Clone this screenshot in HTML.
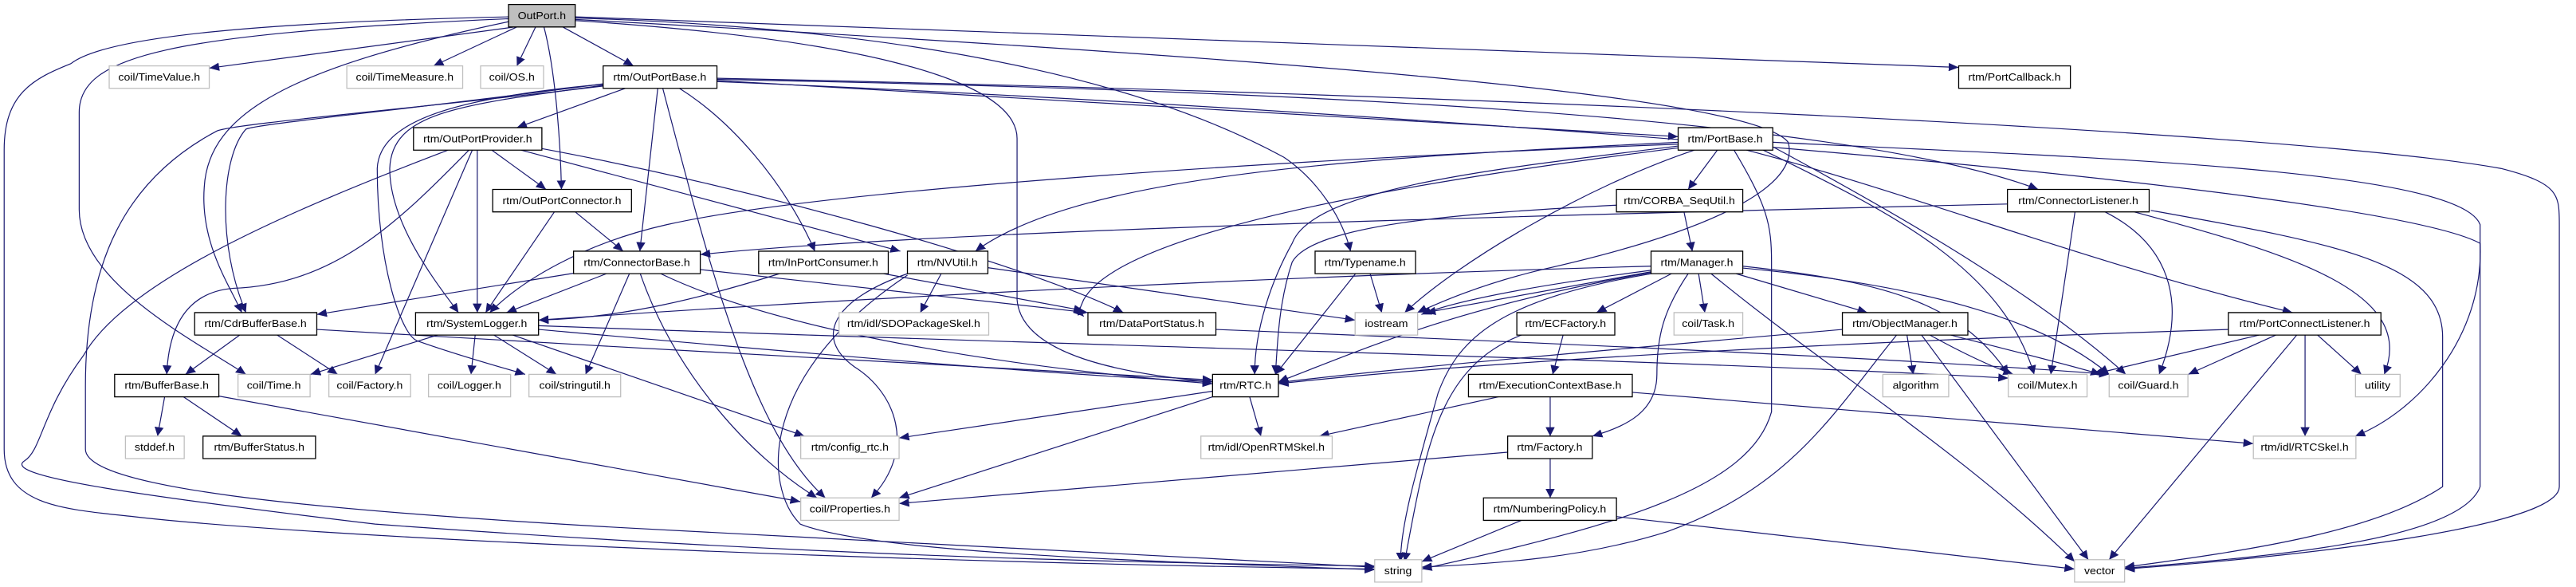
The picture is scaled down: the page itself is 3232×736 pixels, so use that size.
<!DOCTYPE html>
<html><head><meta charset="utf-8"><style>
html,body{margin:0;padding:0;background:#fff;}
svg{display:block;}
.e{fill:none;stroke:#191970;stroke-width:1.2;vector-effect:non-scaling-stroke;marker-end:url(#a);}
.b{fill:#fff;stroke:#000;stroke-width:1.3;vector-effect:non-scaling-stroke;}
.g{fill:#fff;stroke:#bfbfbf;stroke-width:1.3;vector-effect:non-scaling-stroke;}
text{font-family:"Liberation Sans",sans-serif;font-size:27px;text-anchor:middle;fill:#000;}
</style></head><body>
<svg width="3232" height="736" viewBox="0 0 6180 1568" preserveAspectRatio="none" xmlns="http://www.w3.org/2000/svg">
<defs><marker id="a" markerUnits="userSpaceOnUse" markerWidth="26" markerHeight="22" refX="24" refY="11" orient="auto"><path d="M0,0 L24,11 L0,22 z" fill="#191970"/></marker></defs>
<g>
<path class="e" d="M1235,72 L502,182"/>
<path class="e" d="M1240,72 L1040,176"/>
<path class="e" d="M1285,72 L1240,176"/>
<path class="e" d="M1350,72 L1520,176"/>
<path class="e" d="M1305,72 C1335,200 1345,400 1347,506"/>
<path class="e" d="M1220,58 C700,180 500,300 490,500 C480,650 550,760 580,835"/>
<path class="e" d="M1220,50 C400,90 190,150 190,300 L190,560 C190,750 450,900 590,1000"/>
<path class="e" d="M1220,45 C600,60 250,100 170,170 C80,210 10,250 10,400 L10,1200 C10,1350 150,1360 320,1380 C700,1430 2000,1500 3298,1520"/>
<path class="e" d="M1380,45 L4699,180"/>
<path class="e" d="M1380,48 C2300,80 2800,250 3080,420 C3160,480 3220,580 3240,671"/>
<path class="e" d="M1380,52 C3000,150 4200,250 4290,380 C4320,500 4100,620 3700,720 C3550,760 3450,810 3400,835"/>
<path class="e" d="M1380,55 C2000,100 2440,200 2440,370 L2440,800 C2450,950 2700,1000 2909,1020"/>
<path class="e" d="M1500,236 L1240,341"/>
<path class="e" d="M1578,236 L1535,671"/>
<path class="e" d="M1590,236 C1700,700 1800,1150 1980,1330"/>
<path class="e" d="M1630,236 C1750,320 1880,480 1955,671"/>
<path class="e" d="M1720,215 L4026,365"/>
<path class="e" d="M1720,212 C3000,240 4400,300 4890,506"/>
<path class="e" d="M1720,209 C3500,250 5500,350 6000,450 C6140,490 6140,520 6140,600 L6140,1300 C6140,1400 5600,1480 5097,1520"/>
<path class="e" d="M1720,218 C3500,300 5700,500 5950,650 C5960,900 5800,1100 5650,1165"/>
<path class="e" d="M1447,228 C1100,280 940,300 935,450 C935,600 1050,760 1100,835"/>
<path class="e" d="M1447,225 C1100,260 910,320 905,450 C905,700 960,890 1000,910 C1100,950 1200,980 1260,1000"/>
<path class="e" d="M1447,224 C1000,290 620,330 590,345 C530,420 520,650 590,835"/>
<path class="e" d="M1447,230 C1000,290 560,330 520,350 C300,480 205,700 205,1030 L205,1200 C205,1300 700,1360 1500,1410 C2500,1470 3000,1500 3298,1515"/>
<path class="e" d="M1180,401 L1310,506"/>
<path class="e" d="M1145,401 L1145,835"/>
<path class="e" d="M1133,401 L900,1000"/>
<path class="e" d="M1125,401 C950,600 800,760 560,770 C450,780 405,870 400,1000"/>
<path class="e" d="M1075,401 C700,560 300,750 200,950 C100,1100 100,1200 60,1230 C0,1270 300,1320 900,1400 C2000,1490 2800,1505 3298,1512"/>
<path class="e" d="M1250,401 L2160,671"/>
<path class="e" d="M1300,397 C1800,500 2450,700 2695,835"/>
<path class="e" d="M1380,566 L1495,671"/>
<path class="e" d="M1330,566 L1165,835"/>
<path class="e" d="M1376,730 L760,840"/>
<path class="e" d="M1455,731 L1215,835"/>
<path class="e" d="M1510,731 L1405,1000"/>
<path class="e" d="M1536,731 C1620,1000 1800,1220 1960,1330"/>
<path class="e" d="M1585,731 C1900,900 2500,990 2909,1025"/>
<path class="e" d="M1680,720 L2610,835"/>
<path class="e" d="M1870,731 C1700,790 1500,850 1292,855"/>
<path class="e" d="M2120,731 L2600,830"/>
<path class="e" d="M2258,731 L2208,835"/>
<path class="e" d="M2177,731 C2000,800 1950,900 2050,980 C2150,1050 2200,1200 2090,1330"/>
<path class="e" d="M2177,735 C1820,1000 1830,1300 1920,1400 C2100,1480 2800,1500 3298,1522"/>
<path class="e" d="M2370,715 L3251,855"/>
<path class="e" d="M1050,895 L745,1000"/>
<path class="e" d="M1140,895 L1130,1000"/>
<path class="e" d="M1185,895 L1335,1000"/>
<path class="e" d="M1230,895 L1930,1165"/>
<path class="e" d="M1292,880 C1900,940 2500,1000 2909,1020"/>
<path class="e" d="M1292,870 C2500,920 4000,960 4818,1010"/>
<path class="e" d="M575,895 L445,1000"/>
<path class="e" d="M665,895 L810,1000"/>
<path class="e" d="M760,880 C1500,930 2400,980 2909,1015"/>
<path class="e" d="M395,1060 L378,1165"/>
<path class="e" d="M440,1060 L580,1165"/>
<path class="e" d="M525,1058 L1920,1340"/>
<path class="e" d="M2909,1045 L2157,1170"/>
<path class="e" d="M2909,1060 L2157,1330"/>
<path class="e" d="M2998,1060 L3025,1165"/>
<path class="e" d="M2917,880 C3800,920 4600,960 5060,1000"/>
<path class="e" d="M4120,401 L4050,506"/>
<path class="e" d="M4065,401 C3800,500 3500,700 3370,835"/>
<path class="e" d="M4160,401 C4240,550 4250,600 4250,700 L4250,1100 C4200,1300 3900,1400 3411,1520"/>
<path class="e" d="M4026,380 C3300,420 2600,460 2340,671"/>
<path class="e" d="M4026,385 C3200,420 2000,500 1600,600 C1400,650 1250,750 1175,835"/>
<path class="e" d="M4026,390 C3600,450 3150,500 3100,650 C3050,750 3010,880 3010,1000"/>
<path class="e" d="M4026,395 C3500,470 2700,600 2600,800 C2580,850 2590,835 2600,845"/>
<path class="e" d="M4190,401 C4600,520 5000,700 5500,835"/>
<path class="e" d="M4230,401 C4500,550 4800,700 4880,1000"/>
<path class="e" d="M4253,392 C4600,600 4900,800 5100,1000"/>
<path class="e" d="M4253,380 C5000,420 5900,450 5950,600 L5950,1300 C5900,1450 5400,1490 5097,1518"/>
<path class="e" d="M4040,566 L4060,671"/>
<path class="e" d="M3878,548 C3500,570 3150,600 3100,700 C3070,800 3065,900 3060,1000"/>
<path class="e" d="M3287,731 L3315,835"/>
<path class="e" d="M3252,731 L3060,1000"/>
<path class="e" d="M3961,722 C3700,760 3500,800 3410,840"/>
<path class="e" d="M3961,726 C3700,780 3500,820 3420,835"/>
<path class="e" d="M3961,711 C3000,740 2000,800 1292,855"/>
<path class="e" d="M3961,728 C3500,820 3300,920 3067,1020"/>
<path class="e" d="M3961,731 C3600,800 3500,900 3450,1050 C3400,1250 3360,1400 3360,1500"/>
<path class="e" d="M4010,731 L3830,835"/>
<path class="e" d="M4075,731 L4090,835"/>
<path class="e" d="M4050,731 C3990,830 3975,900 3975,1000 C3975,1100 3900,1140 3820,1165"/>
<path class="e" d="M4165,731 L4480,835"/>
<path class="e" d="M4105,731 C4400,1000 4700,1200 4977,1500"/>
<path class="e" d="M4181,711 C4500,750 4700,800 4818,1000"/>
<path class="e" d="M4181,716 C4600,760 4900,850 5060,1000"/>
<path class="e" d="M3750,895 L3725,1000"/>
<path class="e" d="M3650,895 C3450,980 3420,1200 3370,1500"/>
<path class="e" d="M4420,880 C3700,950 3300,990 3067,1022"/>
<path class="e" d="M4575,895 L4590,1000"/>
<path class="e" d="M4630,895 C4720,950 4780,980 4830,1000"/>
<path class="e" d="M4680,895 C4800,930 4950,970 5040,1000"/>
<path class="e" d="M4610,895 L5010,1495"/>
<path class="e" d="M4550,895 C4400,1100 4300,1300 4000,1420 C3800,1490 3600,1505 3411,1515"/>
<path class="e" d="M3595,1060 L3165,1165"/>
<path class="e" d="M3719,1060 L3719,1165"/>
<path class="e" d="M3916,1048 L5406,1185"/>
<path class="e" d="M3719,1225 L3719,1330"/>
<path class="e" d="M3617,1208 L2157,1345"/>
<path class="e" d="M3650,1390 L3411,1500"/>
<path class="e" d="M3878,1380 L4977,1520"/>
<path class="e" d="M4816,545 C3500,580 2200,620 1680,680"/>
<path class="e" d="M4978,566 L4920,1000"/>
<path class="e" d="M5050,566 C5200,650 5250,800 5180,1000"/>
<path class="e" d="M5120,566 C5500,680 5800,780 5720,1000"/>
<path class="e" d="M5160,562 C5600,650 5860,700 5860,900 L5860,1300 C5700,1420 5400,1470 5097,1515"/>
<path class="e" d="M5346,880 C4500,910 3600,960 3067,1025"/>
<path class="e" d="M5420,895 L5020,1000"/>
<path class="e" d="M5460,895 L5250,1000"/>
<path class="e" d="M5560,895 L5665,1000"/>
<path class="e" d="M5530,895 L5530,1165"/>
<path class="e" d="M5510,895 L5060,1495"/>
</g>
<g>
<rect x="1220" y="12" width="160" height="60" fill="#bfbfbf" stroke="#000" stroke-width="1.3" vector-effect="non-scaling-stroke"/><text x="1300" y="51">OutPort.h</text>
<rect class="g" x="262" y="176" width="240" height="60"/><text x="382" y="215">coil/TimeValue.h</text>
<rect class="g" x="832" y="176" width="278" height="60"/><text x="971" y="215">coil/TimeMeasure.h</text>
<rect class="g" x="1153" y="176" width="151" height="60"/><text x="1228" y="215">coil/OS.h</text>
<rect class="b" x="1447" y="176" width="273" height="60"/><text x="1583" y="215">rtm/OutPortBase.h</text>
<rect class="b" x="4699" y="176" width="268" height="60"/><text x="4833" y="215">rtm/PortCallback.h</text>
<rect class="b" x="992" y="341" width="308" height="60"/><text x="1146" y="380">rtm/OutPortProvider.h</text>
<rect class="b" x="4026" y="341" width="227" height="60"/><text x="4139" y="380">rtm/PortBase.h</text>
<rect class="b" x="1182" y="506" width="333" height="60"/><text x="1348" y="545">rtm/OutPortConnector.h</text>
<rect class="b" x="3878" y="506" width="303" height="60"/><text x="4029" y="545">rtm/CORBA_SeqUtil.h</text>
<rect class="b" x="4816" y="506" width="340" height="60"/><text x="4986" y="545">rtm/ConnectorListener.h</text>
<rect class="b" x="1376" y="671" width="304" height="60"/><text x="1528" y="710">rtm/ConnectorBase.h</text>
<rect class="b" x="1820" y="671" width="311" height="60"/><text x="1975" y="710">rtm/InPortConsumer.h</text>
<rect class="b" x="2177" y="671" width="193" height="60"/><text x="2273" y="710">rtm/NVUtil.h</text>
<rect class="b" x="3155" y="671" width="241" height="60"/><text x="3275" y="710">rtm/Typename.h</text>
<rect class="b" x="3961" y="671" width="220" height="60"/><text x="4071" y="710">rtm/Manager.h</text>
<rect class="b" x="467" y="835" width="293" height="60"/><text x="613" y="874">rtm/CdrBufferBase.h</text>
<rect class="b" x="997" y="835" width="295" height="60"/><text x="1144" y="874">rtm/SystemLogger.h</text>
<rect class="g" x="2013" y="835" width="359" height="60"/><text x="2192" y="874">rtm/idl/SDOPackageSkel.h</text>
<rect class="b" x="2610" y="835" width="307" height="60"/><text x="2763" y="874">rtm/DataPortStatus.h</text>
<rect class="g" x="3251" y="835" width="150" height="60"/><text x="3326" y="874">iostream</text>
<rect class="b" x="3639" y="835" width="235" height="60"/><text x="3756" y="874">rtm/ECFactory.h</text>
<rect class="g" x="4016" y="835" width="165" height="60"/><text x="4098" y="874">coil/Task.h</text>
<rect class="b" x="4420" y="835" width="301" height="60"/><text x="4570" y="874">rtm/ObjectManager.h</text>
<rect class="b" x="5346" y="835" width="366" height="60"/><text x="5529" y="874">rtm/PortConnectListener.h</text>
<rect class="b" x="275" y="1000" width="250" height="60"/><text x="400" y="1039">rtm/BufferBase.h</text>
<rect class="g" x="571" y="1000" width="173" height="60"/><text x="657" y="1039">coil/Time.h</text>
<rect class="g" x="789" y="1000" width="196" height="60"/><text x="887" y="1039">coil/Factory.h</text>
<rect class="g" x="1028" y="1000" width="197" height="60"/><text x="1126" y="1039">coil/Logger.h</text>
<rect class="g" x="1269" y="1000" width="220" height="60"/><text x="1379" y="1039">coil/stringutil.h</text>
<rect class="b" x="2909" y="1000" width="158" height="60"/><text x="2988" y="1039">rtm/RTC.h</text>
<rect class="b" x="3523" y="1000" width="393" height="60"/><text x="3719" y="1039">rtm/ExecutionContextBase.h</text>
<rect class="g" x="4517" y="1000" width="158" height="60"/><text x="4596" y="1039">algorithm</text>
<rect class="g" x="4818" y="1000" width="189" height="60"/><text x="4912" y="1039">coil/Mutex.h</text>
<rect class="g" x="5060" y="1000" width="189" height="60"/><text x="5154" y="1039">coil/Guard.h</text>
<rect class="g" x="5651" y="1000" width="107" height="60"/><text x="5704" y="1039">utility</text>
<rect class="g" x="301" y="1165" width="141" height="60"/><text x="371" y="1204">stddef.h</text>
<rect class="b" x="487" y="1165" width="270" height="60"/><text x="622" y="1204">rtm/BufferStatus.h</text>
<rect class="g" x="1921" y="1165" width="236" height="60"/><text x="2039" y="1204">rtm/config_rtc.h</text>
<rect class="g" x="2881" y="1165" width="315" height="60"/><text x="3038" y="1204">rtm/idl/OpenRTMSkel.h</text>
<rect class="b" x="3617" y="1165" width="203" height="60"/><text x="3718" y="1204">rtm/Factory.h</text>
<rect class="g" x="5406" y="1165" width="246" height="60"/><text x="5529" y="1204">rtm/idl/RTCSkel.h</text>
<rect class="g" x="1921" y="1330" width="236" height="60"/><text x="2039" y="1369">coil/Properties.h</text>
<rect class="b" x="3559" y="1330" width="319" height="60"/><text x="3718" y="1369">rtm/NumberingPolicy.h</text>
<rect class="g" x="3298" y="1495" width="113" height="60"/><text x="3354" y="1534">string</text>
<rect class="g" x="4977" y="1495" width="120" height="60"/><text x="5037" y="1534">vector</text>
</g>
</svg>
</body></html>
